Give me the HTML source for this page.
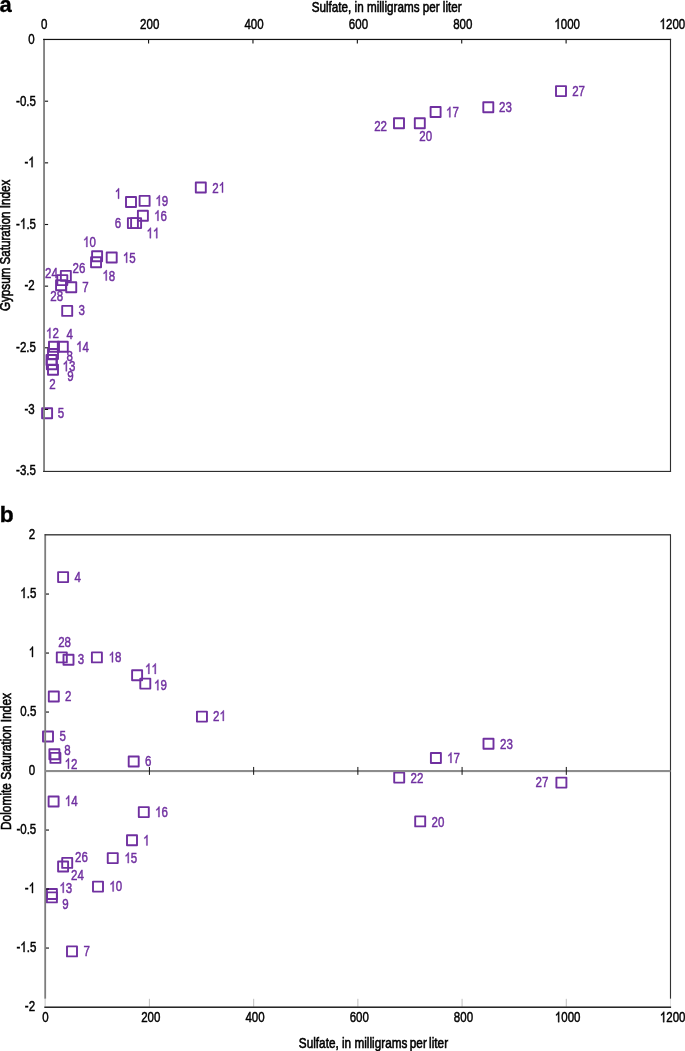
<!DOCTYPE html>
<html>
<head>
<meta charset="utf-8">
<title>Saturation index vs sulfate</title>
<style>
html, body { margin: 0; padding: 0; background: #ffffff; }
body { width: 685px; height: 1051px; overflow: hidden; }
svg { display: block; }
text { font-family: "Liberation Sans", sans-serif; }
</style>
</head>
<body>
<svg width="685" height="1051" viewBox="0 0 685 1051">
<defs><filter id="ga" filterUnits="userSpaceOnUse" x="0" y="0" width="685" height="1051" color-interpolation-filters="sRGB"><feColorMatrix type="matrix" values="1 0 0 0 0  0 1 0 0 0  0 0 1 0 0  0 0 0 1 0"/></filter></defs>
<rect x="0" y="0" width="685" height="1051" fill="#ffffff"/>
<g filter="url(#ga)">
<rect x="556.00" y="86.10" width="10.0" height="10.0" fill="none" stroke="#7030A0" stroke-width="1.9" stroke-linejoin="round"/>
<rect x="483.30" y="102.20" width="10.0" height="10.0" fill="none" stroke="#7030A0" stroke-width="1.9" stroke-linejoin="round"/>
<rect x="430.60" y="107.00" width="10.0" height="10.0" fill="none" stroke="#7030A0" stroke-width="1.9" stroke-linejoin="round"/>
<rect x="414.80" y="118.20" width="10.0" height="10.0" fill="none" stroke="#7030A0" stroke-width="1.9" stroke-linejoin="round"/>
<rect x="394.00" y="118.20" width="10.0" height="10.0" fill="none" stroke="#7030A0" stroke-width="1.9" stroke-linejoin="round"/>
<rect x="195.80" y="182.50" width="10.0" height="10.0" fill="none" stroke="#7030A0" stroke-width="1.9" stroke-linejoin="round"/>
<rect x="126.00" y="197.00" width="10.0" height="10.0" fill="none" stroke="#7030A0" stroke-width="1.9" stroke-linejoin="round"/>
<rect x="139.60" y="195.90" width="10.0" height="10.0" fill="none" stroke="#7030A0" stroke-width="1.9" stroke-linejoin="round"/>
<rect x="137.90" y="210.70" width="10.0" height="10.0" fill="none" stroke="#7030A0" stroke-width="1.9" stroke-linejoin="round"/>
<rect x="127.90" y="218.10" width="10.0" height="10.0" fill="none" stroke="#7030A0" stroke-width="1.9" stroke-linejoin="round"/>
<rect x="131.10" y="218.10" width="10.0" height="10.0" fill="none" stroke="#7030A0" stroke-width="1.9" stroke-linejoin="round"/>
<rect x="92.10" y="251.30" width="10.0" height="10.0" fill="none" stroke="#7030A0" stroke-width="1.9" stroke-linejoin="round"/>
<rect x="91.05" y="257.30" width="10.0" height="10.0" fill="none" stroke="#7030A0" stroke-width="1.9" stroke-linejoin="round"/>
<rect x="106.70" y="252.50" width="10.0" height="10.0" fill="none" stroke="#7030A0" stroke-width="1.9" stroke-linejoin="round"/>
<rect x="60.85" y="270.85" width="10.0" height="10.0" fill="none" stroke="#7030A0" stroke-width="1.9" stroke-linejoin="round"/>
<rect x="57.30" y="275.10" width="10.0" height="10.0" fill="none" stroke="#7030A0" stroke-width="1.9" stroke-linejoin="round"/>
<rect x="56.05" y="280.20" width="10.0" height="10.0" fill="none" stroke="#7030A0" stroke-width="1.9" stroke-linejoin="round"/>
<rect x="66.25" y="282.30" width="10.0" height="10.0" fill="none" stroke="#7030A0" stroke-width="1.9" stroke-linejoin="round"/>
<rect x="62.20" y="305.90" width="10.0" height="10.0" fill="none" stroke="#7030A0" stroke-width="1.9" stroke-linejoin="round"/>
<rect x="49.00" y="341.80" width="10.0" height="10.0" fill="none" stroke="#7030A0" stroke-width="1.9" stroke-linejoin="round"/>
<rect x="57.80" y="341.70" width="10.0" height="10.0" fill="none" stroke="#7030A0" stroke-width="1.9" stroke-linejoin="round"/>
<rect x="48.00" y="349.00" width="10.0" height="10.0" fill="none" stroke="#7030A0" stroke-width="1.9" stroke-linejoin="round"/>
<rect x="46.50" y="355.00" width="10.0" height="10.0" fill="none" stroke="#7030A0" stroke-width="1.9" stroke-linejoin="round"/>
<rect x="46.85" y="359.20" width="10.0" height="10.0" fill="none" stroke="#7030A0" stroke-width="1.9" stroke-linejoin="round"/>
<rect x="48.00" y="364.80" width="10.0" height="10.0" fill="none" stroke="#7030A0" stroke-width="1.9" stroke-linejoin="round"/>
<rect x="42.10" y="408.20" width="10.0" height="10.0" fill="none" stroke="#7030A0" stroke-width="1.9" stroke-linejoin="round"/>
<g transform="translate(572.20,96.05) scale(0.79,1)" fill="#7030A0" stroke="#7030A0" stroke-width="0.48"><text x="0.00" y="0" font-size="14.6">27</text></g>
<g transform="translate(499.00,112.30) scale(0.79,1)" fill="#7030A0" stroke="#7030A0" stroke-width="0.48"><text x="0.00" y="0" font-size="14.6">23</text></g>
<g transform="translate(446.05,117.30) scale(0.79,1)" fill="#7030A0" stroke="#7030A0" stroke-width="0.48"><path transform="translate(0.00,0)" d="M5.44 0.00L4.16 0.00L4.16 -8.18Q3.69 -7.73 2.94 -7.29Q2.19 -6.85 1.59 -6.63L1.59 -7.87Q2.67 -8.38 3.47 -9.10Q4.28 -9.82 4.61 -10.49L5.44 -10.49Z"/><text x="8.12" y="0" font-size="14.6">7</text></g>
<g transform="translate(419.30,140.70) scale(0.79,1)" fill="#7030A0" stroke="#7030A0" stroke-width="0.48"><text x="0.00" y="0" font-size="14.6">20</text></g>
<g transform="translate(374.20,131.20) scale(0.79,1)" fill="#7030A0" stroke="#7030A0" stroke-width="0.48"><text x="0.00" y="0" font-size="14.6">22</text></g>
<g transform="translate(212.30,192.60) scale(0.79,1)" fill="#7030A0" stroke="#7030A0" stroke-width="0.48"><text x="0.00" y="0" font-size="14.6">2</text><path transform="translate(8.12,0)" d="M5.44 0.00L4.16 0.00L4.16 -8.18Q3.69 -7.73 2.94 -7.29Q2.19 -6.85 1.59 -6.63L1.59 -7.87Q2.67 -8.38 3.47 -9.10Q4.28 -9.82 4.61 -10.49L5.44 -10.49Z"/></g>
<g transform="translate(114.75,198.70) scale(0.79,1)" fill="#7030A0" stroke="#7030A0" stroke-width="0.48"><path transform="translate(0.00,0)" d="M5.44 0.00L4.16 0.00L4.16 -8.18Q3.69 -7.73 2.94 -7.29Q2.19 -6.85 1.59 -6.63L1.59 -7.87Q2.67 -8.38 3.47 -9.10Q4.28 -9.82 4.61 -10.49L5.44 -10.49Z"/></g>
<g transform="translate(155.45,205.80) scale(0.79,1)" fill="#7030A0" stroke="#7030A0" stroke-width="0.48"><path transform="translate(0.00,0)" d="M5.44 0.00L4.16 0.00L4.16 -8.18Q3.69 -7.73 2.94 -7.29Q2.19 -6.85 1.59 -6.63L1.59 -7.87Q2.67 -8.38 3.47 -9.10Q4.28 -9.82 4.61 -10.49L5.44 -10.49Z"/><text x="8.12" y="0" font-size="14.6">9</text></g>
<g transform="translate(154.15,220.80) scale(0.79,1)" fill="#7030A0" stroke="#7030A0" stroke-width="0.48"><path transform="translate(0.00,0)" d="M5.44 0.00L4.16 0.00L4.16 -8.18Q3.69 -7.73 2.94 -7.29Q2.19 -6.85 1.59 -6.63L1.59 -7.87Q2.67 -8.38 3.47 -9.10Q4.28 -9.82 4.61 -10.49L5.44 -10.49Z"/><text x="8.12" y="0" font-size="14.6">6</text></g>
<g transform="translate(114.80,227.90) scale(0.79,1)" fill="#7030A0" stroke="#7030A0" stroke-width="0.48"><text x="0.00" y="0" font-size="14.6">6</text></g>
<g transform="translate(146.55,238.20) scale(0.79,1)" fill="#7030A0" stroke="#7030A0" stroke-width="0.48"><path transform="translate(0.00,0)" d="M5.44 0.00L4.16 0.00L4.16 -8.18Q3.69 -7.73 2.94 -7.29Q2.19 -6.85 1.59 -6.63L1.59 -7.87Q2.67 -8.38 3.47 -9.10Q4.28 -9.82 4.61 -10.49L5.44 -10.49Z"/><path transform="translate(8.12,0)" d="M5.44 0.00L4.16 0.00L4.16 -8.18Q3.69 -7.73 2.94 -7.29Q2.19 -6.85 1.59 -6.63L1.59 -7.87Q2.67 -8.38 3.47 -9.10Q4.28 -9.82 4.61 -10.49L5.44 -10.49Z"/></g>
<g transform="translate(83.05,247.00) scale(0.79,1)" fill="#7030A0" stroke="#7030A0" stroke-width="0.48"><path transform="translate(0.00,0)" d="M5.44 0.00L4.16 0.00L4.16 -8.18Q3.69 -7.73 2.94 -7.29Q2.19 -6.85 1.59 -6.63L1.59 -7.87Q2.67 -8.38 3.47 -9.10Q4.28 -9.82 4.61 -10.49L5.44 -10.49Z"/><text x="8.12" y="0" font-size="14.6">0</text></g>
<g transform="translate(122.85,262.70) scale(0.79,1)" fill="#7030A0" stroke="#7030A0" stroke-width="0.48"><path transform="translate(0.00,0)" d="M5.44 0.00L4.16 0.00L4.16 -8.18Q3.69 -7.73 2.94 -7.29Q2.19 -6.85 1.59 -6.63L1.59 -7.87Q2.67 -8.38 3.47 -9.10Q4.28 -9.82 4.61 -10.49L5.44 -10.49Z"/><text x="8.12" y="0" font-size="14.6">5</text></g>
<g transform="translate(102.45,280.60) scale(0.79,1)" fill="#7030A0" stroke="#7030A0" stroke-width="0.48"><path transform="translate(0.00,0)" d="M5.44 0.00L4.16 0.00L4.16 -8.18Q3.69 -7.73 2.94 -7.29Q2.19 -6.85 1.59 -6.63L1.59 -7.87Q2.67 -8.38 3.47 -9.10Q4.28 -9.82 4.61 -10.49L5.44 -10.49Z"/><text x="8.12" y="0" font-size="14.6">8</text></g>
<g transform="translate(72.50,272.90) scale(0.79,1)" fill="#7030A0" stroke="#7030A0" stroke-width="0.48"><text x="0.00" y="0" font-size="14.6">26</text></g>
<g transform="translate(45.10,278.00) scale(0.79,1)" fill="#7030A0" stroke="#7030A0" stroke-width="0.48"><text x="0.00" y="0" font-size="14.6">24</text></g>
<g transform="translate(82.30,292.10) scale(0.79,1)" fill="#7030A0" stroke="#7030A0" stroke-width="0.48"><text x="0.00" y="0" font-size="14.6">7</text></g>
<g transform="translate(50.30,300.80) scale(0.79,1)" fill="#7030A0" stroke="#7030A0" stroke-width="0.48"><text x="0.00" y="0" font-size="14.6">28</text></g>
<g transform="translate(78.60,315.40) scale(0.79,1)" fill="#7030A0" stroke="#7030A0" stroke-width="0.48"><text x="0.00" y="0" font-size="14.6">3</text></g>
<g transform="translate(46.05,338.30) scale(0.79,1)" fill="#7030A0" stroke="#7030A0" stroke-width="0.48"><path transform="translate(0.00,0)" d="M5.44 0.00L4.16 0.00L4.16 -8.18Q3.69 -7.73 2.94 -7.29Q2.19 -6.85 1.59 -6.63L1.59 -7.87Q2.67 -8.38 3.47 -9.10Q4.28 -9.82 4.61 -10.49L5.44 -10.49Z"/><text x="8.12" y="0" font-size="14.6">2</text></g>
<g transform="translate(66.40,339.30) scale(0.79,1)" fill="#7030A0" stroke="#7030A0" stroke-width="0.48"><text x="0.00" y="0" font-size="14.6">4</text></g>
<g transform="translate(76.15,351.70) scale(0.79,1)" fill="#7030A0" stroke="#7030A0" stroke-width="0.48"><path transform="translate(0.00,0)" d="M5.44 0.00L4.16 0.00L4.16 -8.18Q3.69 -7.73 2.94 -7.29Q2.19 -6.85 1.59 -6.63L1.59 -7.87Q2.67 -8.38 3.47 -9.10Q4.28 -9.82 4.61 -10.49L5.44 -10.49Z"/><text x="8.12" y="0" font-size="14.6">4</text></g>
<g transform="translate(66.50,360.60) scale(0.79,1)" fill="#7030A0" stroke="#7030A0" stroke-width="0.48"><text x="0.00" y="0" font-size="14.6">8</text></g>
<g transform="translate(62.55,371.20) scale(0.79,1)" fill="#7030A0" stroke="#7030A0" stroke-width="0.48"><path transform="translate(0.00,0)" d="M5.44 0.00L4.16 0.00L4.16 -8.18Q3.69 -7.73 2.94 -7.29Q2.19 -6.85 1.59 -6.63L1.59 -7.87Q2.67 -8.38 3.47 -9.10Q4.28 -9.82 4.61 -10.49L5.44 -10.49Z"/><text x="8.12" y="0" font-size="14.6">3</text></g>
<g transform="translate(67.20,380.70) scale(0.79,1)" fill="#7030A0" stroke="#7030A0" stroke-width="0.48"><text x="0.00" y="0" font-size="14.6">9</text></g>
<g transform="translate(49.30,389.20) scale(0.79,1)" fill="#7030A0" stroke="#7030A0" stroke-width="0.48"><text x="0.00" y="0" font-size="14.6">2</text></g>
<g transform="translate(57.80,418.20) scale(0.79,1)" fill="#7030A0" stroke="#7030A0" stroke-width="0.48"><text x="0.00" y="0" font-size="14.6">5</text></g>
<rect x="43.15" y="38.85" width="1.80" height="433.15" fill="#7d7d7d"/>
<rect x="43.15" y="38.85" width="627.95" height="1.20" fill="#111"/>
<rect x="669.93" y="38.85" width="1.12" height="433.15" fill="#2e2e2e"/>
<rect x="43.15" y="470.85" width="627.90" height="1.15" fill="#2e2e2e"/>
<rect x="148.03" y="40.00" width="1.10" height="3.50" fill="#111"/>
<rect x="252.41" y="40.00" width="1.10" height="3.50" fill="#111"/>
<rect x="356.79" y="40.00" width="1.10" height="3.50" fill="#111"/>
<rect x="461.17" y="40.00" width="1.10" height="3.50" fill="#111"/>
<rect x="565.55" y="40.00" width="1.10" height="3.50" fill="#111"/>
<rect x="44.90" y="100.65" width="3.20" height="1.10" fill="#111"/>
<rect x="44.90" y="162.30" width="3.20" height="1.10" fill="#111"/>
<rect x="44.90" y="223.95" width="3.20" height="1.10" fill="#111"/>
<rect x="44.90" y="285.60" width="3.20" height="1.10" fill="#111"/>
<rect x="44.90" y="347.25" width="3.20" height="1.10" fill="#111"/>
<rect x="44.90" y="408.90" width="3.20" height="1.10" fill="#111"/>
<g transform="translate(44.30,28.90) scale(0.79,1)" fill="#000" stroke="#000" stroke-width="0.48"><text x="-4.06" y="0" font-size="14.6">0</text></g>
<g transform="translate(149.68,28.90) scale(0.79,1)" fill="#000" stroke="#000" stroke-width="0.48"><text x="-12.18" y="0" font-size="14.6">200</text></g>
<g transform="translate(254.06,28.90) scale(0.79,1)" fill="#000" stroke="#000" stroke-width="0.48"><text x="-12.18" y="0" font-size="14.6">400</text></g>
<g transform="translate(358.44,28.90) scale(0.79,1)" fill="#000" stroke="#000" stroke-width="0.48"><text x="-12.18" y="0" font-size="14.6">600</text></g>
<g transform="translate(462.82,28.90) scale(0.79,1)" fill="#000" stroke="#000" stroke-width="0.48"><text x="-12.18" y="0" font-size="14.6">800</text></g>
<g transform="translate(567.20,28.90) scale(0.79,1)" fill="#000" stroke="#000" stroke-width="0.48"><path transform="translate(-16.24,0)" d="M5.44 0.00L4.16 0.00L4.16 -8.18Q3.69 -7.73 2.94 -7.29Q2.19 -6.85 1.59 -6.63L1.59 -7.87Q2.67 -8.38 3.47 -9.10Q4.28 -9.82 4.61 -10.49L5.44 -10.49Z"/><text x="-8.12" y="0" font-size="14.6">000</text></g>
<g transform="translate(672.38,28.90) scale(0.79,1)" fill="#000" stroke="#000" stroke-width="0.48"><path transform="translate(-16.24,0)" d="M5.44 0.00L4.16 0.00L4.16 -8.18Q3.69 -7.73 2.94 -7.29Q2.19 -6.85 1.59 -6.63L1.59 -7.87Q2.67 -8.38 3.47 -9.10Q4.28 -9.82 4.61 -10.49L5.44 -10.49Z"/><text x="-8.12" y="0" font-size="14.6">200</text></g>
<g transform="translate(34.70,43.85) scale(0.79,1)" fill="#000" stroke="#000" stroke-width="0.48"><text x="-8.12" y="0" font-size="14.6">0</text></g>
<g transform="translate(36.00,105.50) scale(0.79,1)" fill="#000" stroke="#000" stroke-width="0.48"><text x="-25.16" y="0" font-size="14.6">-0.5</text></g>
<g transform="translate(34.70,167.15) scale(0.79,1)" fill="#000" stroke="#000" stroke-width="0.48"><text x="-12.98" y="0" font-size="14.6">-</text><path transform="translate(-8.12,0)" d="M5.44 0.00L4.16 0.00L4.16 -8.18Q3.69 -7.73 2.94 -7.29Q2.19 -6.85 1.59 -6.63L1.59 -7.87Q2.67 -8.38 3.47 -9.10Q4.28 -9.82 4.61 -10.49L5.44 -10.49Z"/></g>
<g transform="translate(36.00,228.80) scale(0.79,1)" fill="#000" stroke="#000" stroke-width="0.48"><text x="-25.16" y="0" font-size="14.6">-</text><path transform="translate(-20.30,0)" d="M5.44 0.00L4.16 0.00L4.16 -8.18Q3.69 -7.73 2.94 -7.29Q2.19 -6.85 1.59 -6.63L1.59 -7.87Q2.67 -8.38 3.47 -9.10Q4.28 -9.82 4.61 -10.49L5.44 -10.49Z"/><text x="-12.18" y="0" font-size="14.6">.5</text></g>
<g transform="translate(34.70,290.45) scale(0.79,1)" fill="#000" stroke="#000" stroke-width="0.48"><text x="-12.98" y="0" font-size="14.6">-2</text></g>
<g transform="translate(36.00,352.10) scale(0.79,1)" fill="#000" stroke="#000" stroke-width="0.48"><text x="-25.16" y="0" font-size="14.6">-2.5</text></g>
<g transform="translate(34.70,413.75) scale(0.79,1)" fill="#000" stroke="#000" stroke-width="0.48"><text x="-12.98" y="0" font-size="14.6">-3</text></g>
<g transform="translate(36.00,475.40) scale(0.79,1)" fill="#000" stroke="#000" stroke-width="0.48"><text x="-25.16" y="0" font-size="14.6">-3.5</text></g>
<text transform="translate(311.70,11.70) scale(0.823,1)" text-anchor="start" fill="#000" stroke="#000" stroke-width="0.58" font-size="14.2" font-weight="normal">Sulfate, in milligrams per liter</text>
<text transform="translate(10.40,311.00) rotate(-90) scale(0.82,1)" text-anchor="start" fill="#000" stroke="#000" stroke-width="0.58" font-size="14.2" font-weight="normal">Gypsum Saturation Index</text>
<text transform="translate(-0.50,11.70) scale(1.0,1)" text-anchor="start" fill="#000" stroke="#000" stroke-width="0.35" font-size="21.9" font-weight="bold">a</text>
<rect x="58.10" y="572.10" width="10.0" height="10.0" fill="none" stroke="#7030A0" stroke-width="1.9" stroke-linejoin="round"/>
<rect x="56.80" y="652.40" width="10.0" height="10.0" fill="none" stroke="#7030A0" stroke-width="1.9" stroke-linejoin="round"/>
<rect x="63.50" y="654.80" width="10.0" height="10.0" fill="none" stroke="#7030A0" stroke-width="1.9" stroke-linejoin="round"/>
<rect x="91.90" y="652.40" width="10.0" height="10.0" fill="none" stroke="#7030A0" stroke-width="1.9" stroke-linejoin="round"/>
<rect x="48.80" y="691.50" width="10.0" height="10.0" fill="none" stroke="#7030A0" stroke-width="1.9" stroke-linejoin="round"/>
<rect x="43.00" y="731.50" width="10.0" height="10.0" fill="none" stroke="#7030A0" stroke-width="1.9" stroke-linejoin="round"/>
<rect x="49.40" y="749.20" width="10.0" height="10.0" fill="none" stroke="#7030A0" stroke-width="1.9" stroke-linejoin="round"/>
<rect x="50.40" y="752.90" width="10.0" height="10.0" fill="none" stroke="#7030A0" stroke-width="1.9" stroke-linejoin="round"/>
<rect x="132.10" y="670.20" width="10.0" height="10.0" fill="none" stroke="#7030A0" stroke-width="1.9" stroke-linejoin="round"/>
<rect x="140.30" y="678.60" width="10.0" height="10.0" fill="none" stroke="#7030A0" stroke-width="1.9" stroke-linejoin="round"/>
<rect x="196.95" y="711.60" width="10.0" height="10.0" fill="none" stroke="#7030A0" stroke-width="1.9" stroke-linejoin="round"/>
<rect x="128.70" y="756.50" width="10.0" height="10.0" fill="none" stroke="#7030A0" stroke-width="1.9" stroke-linejoin="round"/>
<rect x="48.60" y="796.50" width="10.0" height="10.0" fill="none" stroke="#7030A0" stroke-width="1.9" stroke-linejoin="round"/>
<rect x="62.20" y="857.90" width="10.0" height="10.0" fill="none" stroke="#7030A0" stroke-width="1.9" stroke-linejoin="round"/>
<rect x="58.10" y="861.50" width="10.0" height="10.0" fill="none" stroke="#7030A0" stroke-width="1.9" stroke-linejoin="round"/>
<rect x="93.00" y="881.60" width="10.0" height="10.0" fill="none" stroke="#7030A0" stroke-width="1.9" stroke-linejoin="round"/>
<rect x="107.75" y="853.10" width="10.0" height="10.0" fill="none" stroke="#7030A0" stroke-width="1.9" stroke-linejoin="round"/>
<rect x="46.90" y="889.00" width="10.0" height="10.0" fill="none" stroke="#7030A0" stroke-width="1.9" stroke-linejoin="round"/>
<rect x="46.90" y="892.40" width="10.0" height="10.0" fill="none" stroke="#7030A0" stroke-width="1.9" stroke-linejoin="round"/>
<rect x="138.80" y="807.10" width="10.0" height="10.0" fill="none" stroke="#7030A0" stroke-width="1.9" stroke-linejoin="round"/>
<rect x="127.00" y="835.20" width="10.0" height="10.0" fill="none" stroke="#7030A0" stroke-width="1.9" stroke-linejoin="round"/>
<rect x="67.00" y="946.40" width="10.0" height="10.0" fill="none" stroke="#7030A0" stroke-width="1.9" stroke-linejoin="round"/>
<rect x="394.20" y="772.60" width="10.0" height="10.0" fill="none" stroke="#7030A0" stroke-width="1.9" stroke-linejoin="round"/>
<rect x="430.90" y="753.00" width="10.0" height="10.0" fill="none" stroke="#7030A0" stroke-width="1.9" stroke-linejoin="round"/>
<rect x="483.50" y="738.70" width="10.0" height="10.0" fill="none" stroke="#7030A0" stroke-width="1.9" stroke-linejoin="round"/>
<rect x="415.20" y="816.40" width="10.0" height="10.0" fill="none" stroke="#7030A0" stroke-width="1.9" stroke-linejoin="round"/>
<rect x="556.40" y="777.60" width="10.0" height="10.0" fill="none" stroke="#7030A0" stroke-width="1.9" stroke-linejoin="round"/>
<g transform="translate(74.40,582.10) scale(0.79,1)" fill="#7030A0" stroke="#7030A0" stroke-width="0.48"><text x="0.00" y="0" font-size="14.6">4</text></g>
<g transform="translate(58.20,647.00) scale(0.79,1)" fill="#7030A0" stroke="#7030A0" stroke-width="0.48"><text x="0.00" y="0" font-size="14.6">28</text></g>
<g transform="translate(77.80,664.00) scale(0.79,1)" fill="#7030A0" stroke="#7030A0" stroke-width="0.48"><text x="0.00" y="0" font-size="14.6">3</text></g>
<g transform="translate(108.65,662.30) scale(0.79,1)" fill="#7030A0" stroke="#7030A0" stroke-width="0.48"><path transform="translate(0.00,0)" d="M5.44 0.00L4.16 0.00L4.16 -8.18Q3.69 -7.73 2.94 -7.29Q2.19 -6.85 1.59 -6.63L1.59 -7.87Q2.67 -8.38 3.47 -9.10Q4.28 -9.82 4.61 -10.49L5.44 -10.49Z"/><text x="8.12" y="0" font-size="14.6">8</text></g>
<g transform="translate(65.10,701.10) scale(0.79,1)" fill="#7030A0" stroke="#7030A0" stroke-width="0.48"><text x="0.00" y="0" font-size="14.6">2</text></g>
<g transform="translate(59.40,741.40) scale(0.79,1)" fill="#7030A0" stroke="#7030A0" stroke-width="0.48"><text x="0.00" y="0" font-size="14.6">5</text></g>
<g transform="translate(64.20,755.00) scale(0.79,1)" fill="#7030A0" stroke="#7030A0" stroke-width="0.48"><text x="0.00" y="0" font-size="14.6">8</text></g>
<g transform="translate(64.65,768.70) scale(0.79,1)" fill="#7030A0" stroke="#7030A0" stroke-width="0.48"><path transform="translate(0.00,0)" d="M5.44 0.00L4.16 0.00L4.16 -8.18Q3.69 -7.73 2.94 -7.29Q2.19 -6.85 1.59 -6.63L1.59 -7.87Q2.67 -8.38 3.47 -9.10Q4.28 -9.82 4.61 -10.49L5.44 -10.49Z"/><text x="8.12" y="0" font-size="14.6">2</text></g>
<g transform="translate(145.05,673.90) scale(0.79,1)" fill="#7030A0" stroke="#7030A0" stroke-width="0.48"><path transform="translate(0.00,0)" d="M5.44 0.00L4.16 0.00L4.16 -8.18Q3.69 -7.73 2.94 -7.29Q2.19 -6.85 1.59 -6.63L1.59 -7.87Q2.67 -8.38 3.47 -9.10Q4.28 -9.82 4.61 -10.49L5.44 -10.49Z"/><path transform="translate(8.12,0)" d="M5.44 0.00L4.16 0.00L4.16 -8.18Q3.69 -7.73 2.94 -7.29Q2.19 -6.85 1.59 -6.63L1.59 -7.87Q2.67 -8.38 3.47 -9.10Q4.28 -9.82 4.61 -10.49L5.44 -10.49Z"/></g>
<g transform="translate(154.05,690.20) scale(0.79,1)" fill="#7030A0" stroke="#7030A0" stroke-width="0.48"><path transform="translate(0.00,0)" d="M5.44 0.00L4.16 0.00L4.16 -8.18Q3.69 -7.73 2.94 -7.29Q2.19 -6.85 1.59 -6.63L1.59 -7.87Q2.67 -8.38 3.47 -9.10Q4.28 -9.82 4.61 -10.49L5.44 -10.49Z"/><text x="8.12" y="0" font-size="14.6">9</text></g>
<g transform="translate(213.10,720.90) scale(0.79,1)" fill="#7030A0" stroke="#7030A0" stroke-width="0.48"><text x="0.00" y="0" font-size="14.6">2</text><path transform="translate(8.12,0)" d="M5.44 0.00L4.16 0.00L4.16 -8.18Q3.69 -7.73 2.94 -7.29Q2.19 -6.85 1.59 -6.63L1.59 -7.87Q2.67 -8.38 3.47 -9.10Q4.28 -9.82 4.61 -10.49L5.44 -10.49Z"/></g>
<g transform="translate(144.90,766.20) scale(0.79,1)" fill="#7030A0" stroke="#7030A0" stroke-width="0.48"><text x="0.00" y="0" font-size="14.6">6</text></g>
<g transform="translate(64.85,806.00) scale(0.79,1)" fill="#7030A0" stroke="#7030A0" stroke-width="0.48"><path transform="translate(0.00,0)" d="M5.44 0.00L4.16 0.00L4.16 -8.18Q3.69 -7.73 2.94 -7.29Q2.19 -6.85 1.59 -6.63L1.59 -7.87Q2.67 -8.38 3.47 -9.10Q4.28 -9.82 4.61 -10.49L5.44 -10.49Z"/><text x="8.12" y="0" font-size="14.6">4</text></g>
<g transform="translate(75.10,861.90) scale(0.79,1)" fill="#7030A0" stroke="#7030A0" stroke-width="0.48"><text x="0.00" y="0" font-size="14.6">26</text></g>
<g transform="translate(71.00,880.10) scale(0.79,1)" fill="#7030A0" stroke="#7030A0" stroke-width="0.48"><text x="0.00" y="0" font-size="14.6">24</text></g>
<g transform="translate(109.35,891.40) scale(0.79,1)" fill="#7030A0" stroke="#7030A0" stroke-width="0.48"><path transform="translate(0.00,0)" d="M5.44 0.00L4.16 0.00L4.16 -8.18Q3.69 -7.73 2.94 -7.29Q2.19 -6.85 1.59 -6.63L1.59 -7.87Q2.67 -8.38 3.47 -9.10Q4.28 -9.82 4.61 -10.49L5.44 -10.49Z"/><text x="8.12" y="0" font-size="14.6">0</text></g>
<g transform="translate(124.45,863.10) scale(0.79,1)" fill="#7030A0" stroke="#7030A0" stroke-width="0.48"><path transform="translate(0.00,0)" d="M5.44 0.00L4.16 0.00L4.16 -8.18Q3.69 -7.73 2.94 -7.29Q2.19 -6.85 1.59 -6.63L1.59 -7.87Q2.67 -8.38 3.47 -9.10Q4.28 -9.82 4.61 -10.49L5.44 -10.49Z"/><text x="8.12" y="0" font-size="14.6">5</text></g>
<g transform="translate(59.45,892.80) scale(0.79,1)" fill="#7030A0" stroke="#7030A0" stroke-width="0.48"><path transform="translate(0.00,0)" d="M5.44 0.00L4.16 0.00L4.16 -8.18Q3.69 -7.73 2.94 -7.29Q2.19 -6.85 1.59 -6.63L1.59 -7.87Q2.67 -8.38 3.47 -9.10Q4.28 -9.82 4.61 -10.49L5.44 -10.49Z"/><text x="8.12" y="0" font-size="14.6">3</text></g>
<g transform="translate(62.20,908.90) scale(0.79,1)" fill="#7030A0" stroke="#7030A0" stroke-width="0.48"><text x="0.00" y="0" font-size="14.6">9</text></g>
<g transform="translate(155.15,817.10) scale(0.79,1)" fill="#7030A0" stroke="#7030A0" stroke-width="0.48"><path transform="translate(0.00,0)" d="M5.44 0.00L4.16 0.00L4.16 -8.18Q3.69 -7.73 2.94 -7.29Q2.19 -6.85 1.59 -6.63L1.59 -7.87Q2.67 -8.38 3.47 -9.10Q4.28 -9.82 4.61 -10.49L5.44 -10.49Z"/><text x="8.12" y="0" font-size="14.6">6</text></g>
<g transform="translate(143.15,845.40) scale(0.79,1)" fill="#7030A0" stroke="#7030A0" stroke-width="0.48"><path transform="translate(0.00,0)" d="M5.44 0.00L4.16 0.00L4.16 -8.18Q3.69 -7.73 2.94 -7.29Q2.19 -6.85 1.59 -6.63L1.59 -7.87Q2.67 -8.38 3.47 -9.10Q4.28 -9.82 4.61 -10.49L5.44 -10.49Z"/></g>
<g transform="translate(83.40,956.40) scale(0.79,1)" fill="#7030A0" stroke="#7030A0" stroke-width="0.48"><text x="0.00" y="0" font-size="14.6">7</text></g>
<g transform="translate(410.50,782.90) scale(0.79,1)" fill="#7030A0" stroke="#7030A0" stroke-width="0.48"><text x="0.00" y="0" font-size="14.6">22</text></g>
<g transform="translate(447.15,762.90) scale(0.79,1)" fill="#7030A0" stroke="#7030A0" stroke-width="0.48"><path transform="translate(0.00,0)" d="M5.44 0.00L4.16 0.00L4.16 -8.18Q3.69 -7.73 2.94 -7.29Q2.19 -6.85 1.59 -6.63L1.59 -7.87Q2.67 -8.38 3.47 -9.10Q4.28 -9.82 4.61 -10.49L5.44 -10.49Z"/><text x="8.12" y="0" font-size="14.6">7</text></g>
<g transform="translate(500.00,748.60) scale(0.79,1)" fill="#7030A0" stroke="#7030A0" stroke-width="0.48"><text x="0.00" y="0" font-size="14.6">23</text></g>
<g transform="translate(431.50,826.50) scale(0.79,1)" fill="#7030A0" stroke="#7030A0" stroke-width="0.48"><text x="0.00" y="0" font-size="14.6">20</text></g>
<g transform="translate(535.60,787.00) scale(0.79,1)" fill="#7030A0" stroke="#7030A0" stroke-width="0.48"><text x="0.00" y="0" font-size="14.6">27</text></g>
<rect x="44.30" y="534.10" width="1.80" height="464.70" fill="#7d7d7d"/>
<rect x="44.40" y="998.80" width="1.60" height="7.60" fill="#dadada"/>
<rect x="44.70" y="534.10" width="626.10" height="1.40" fill="#3a3a3a"/>
<rect x="669.93" y="534.50" width="1.12" height="464.30" fill="#333"/>
<rect x="669.95" y="998.80" width="0.95" height="7.60" fill="#dcdcdc"/>
<rect x="148.87" y="998.80" width="1.10" height="8.00" fill="#c6c6c6"/>
<rect x="253.09" y="998.80" width="1.10" height="8.00" fill="#c6c6c6"/>
<rect x="357.31" y="998.80" width="1.10" height="8.00" fill="#c6c6c6"/>
<rect x="461.53" y="998.80" width="1.10" height="8.00" fill="#c6c6c6"/>
<rect x="565.75" y="998.80" width="1.10" height="8.00" fill="#c6c6c6"/>
<rect x="44.30" y="1006.45" width="626.80" height="1.55" fill="#262626"/>
<rect x="45.30" y="770.00" width="625.20" height="2.10" fill="#8c8c8c"/>
<rect x="148.92" y="766.95" width="1.00" height="7.90" fill="#141414"/>
<rect x="253.14" y="766.95" width="1.00" height="7.90" fill="#141414"/>
<rect x="357.36" y="766.95" width="1.00" height="7.90" fill="#141414"/>
<rect x="461.58" y="766.95" width="1.00" height="7.90" fill="#141414"/>
<rect x="565.80" y="766.95" width="1.00" height="7.90" fill="#141414"/>
<rect x="46.00" y="593.50" width="3.00" height="1.10" fill="#111"/>
<rect x="46.00" y="652.50" width="3.00" height="1.10" fill="#111"/>
<rect x="46.00" y="711.50" width="3.00" height="1.10" fill="#111"/>
<rect x="46.00" y="829.50" width="3.00" height="1.10" fill="#111"/>
<rect x="46.00" y="888.50" width="3.00" height="1.10" fill="#111"/>
<rect x="46.00" y="947.50" width="3.00" height="1.10" fill="#111"/>
<g transform="translate(45.40,1022.20) scale(0.79,1)" fill="#000" stroke="#000" stroke-width="0.48"><text x="-4.06" y="0" font-size="14.6">0</text></g>
<g transform="translate(150.82,1022.20) scale(0.79,1)" fill="#000" stroke="#000" stroke-width="0.48"><text x="-12.18" y="0" font-size="14.6">200</text></g>
<g transform="translate(255.04,1022.20) scale(0.79,1)" fill="#000" stroke="#000" stroke-width="0.48"><text x="-12.18" y="0" font-size="14.6">400</text></g>
<g transform="translate(359.26,1022.20) scale(0.79,1)" fill="#000" stroke="#000" stroke-width="0.48"><text x="-12.18" y="0" font-size="14.6">600</text></g>
<g transform="translate(463.48,1022.20) scale(0.79,1)" fill="#000" stroke="#000" stroke-width="0.48"><text x="-12.18" y="0" font-size="14.6">800</text></g>
<g transform="translate(567.70,1022.20) scale(0.79,1)" fill="#000" stroke="#000" stroke-width="0.48"><path transform="translate(-16.24,0)" d="M5.44 0.00L4.16 0.00L4.16 -8.18Q3.69 -7.73 2.94 -7.29Q2.19 -6.85 1.59 -6.63L1.59 -7.87Q2.67 -8.38 3.47 -9.10Q4.28 -9.82 4.61 -10.49L5.44 -10.49Z"/><text x="-8.12" y="0" font-size="14.6">000</text></g>
<g transform="translate(672.72,1022.20) scale(0.79,1)" fill="#000" stroke="#000" stroke-width="0.48"><path transform="translate(-16.24,0)" d="M5.44 0.00L4.16 0.00L4.16 -8.18Q3.69 -7.73 2.94 -7.29Q2.19 -6.85 1.59 -6.63L1.59 -7.87Q2.67 -8.38 3.47 -9.10Q4.28 -9.82 4.61 -10.49L5.44 -10.49Z"/><text x="-8.12" y="0" font-size="14.6">200</text></g>
<g transform="translate(35.10,539.05) scale(0.79,1)" fill="#000" stroke="#000" stroke-width="0.48"><text x="-8.12" y="0" font-size="14.6">2</text></g>
<g transform="translate(36.30,598.05) scale(0.79,1)" fill="#000" stroke="#000" stroke-width="0.48"><path transform="translate(-20.30,0)" d="M5.44 0.00L4.16 0.00L4.16 -8.18Q3.69 -7.73 2.94 -7.29Q2.19 -6.85 1.59 -6.63L1.59 -7.87Q2.67 -8.38 3.47 -9.10Q4.28 -9.82 4.61 -10.49L5.44 -10.49Z"/><text x="-12.18" y="0" font-size="14.6">.5</text></g>
<g transform="translate(35.10,657.05) scale(0.79,1)" fill="#000" stroke="#000" stroke-width="0.48"><path transform="translate(-8.12,0)" d="M5.44 0.00L4.16 0.00L4.16 -8.18Q3.69 -7.73 2.94 -7.29Q2.19 -6.85 1.59 -6.63L1.59 -7.87Q2.67 -8.38 3.47 -9.10Q4.28 -9.82 4.61 -10.49L5.44 -10.49Z"/></g>
<g transform="translate(36.30,716.05) scale(0.79,1)" fill="#000" stroke="#000" stroke-width="0.48"><text x="-20.30" y="0" font-size="14.6">0.5</text></g>
<g transform="translate(35.10,775.05) scale(0.79,1)" fill="#000" stroke="#000" stroke-width="0.48"><text x="-8.12" y="0" font-size="14.6">0</text></g>
<g transform="translate(36.30,834.05) scale(0.79,1)" fill="#000" stroke="#000" stroke-width="0.48"><text x="-25.16" y="0" font-size="14.6">-0.5</text></g>
<g transform="translate(35.10,893.05) scale(0.79,1)" fill="#000" stroke="#000" stroke-width="0.48"><text x="-12.98" y="0" font-size="14.6">-</text><path transform="translate(-8.12,0)" d="M5.44 0.00L4.16 0.00L4.16 -8.18Q3.69 -7.73 2.94 -7.29Q2.19 -6.85 1.59 -6.63L1.59 -7.87Q2.67 -8.38 3.47 -9.10Q4.28 -9.82 4.61 -10.49L5.44 -10.49Z"/></g>
<g transform="translate(36.30,952.05) scale(0.79,1)" fill="#000" stroke="#000" stroke-width="0.48"><text x="-25.16" y="0" font-size="14.6">-</text><path transform="translate(-20.30,0)" d="M5.44 0.00L4.16 0.00L4.16 -8.18Q3.69 -7.73 2.94 -7.29Q2.19 -6.85 1.59 -6.63L1.59 -7.87Q2.67 -8.38 3.47 -9.10Q4.28 -9.82 4.61 -10.49L5.44 -10.49Z"/><text x="-12.18" y="0" font-size="14.6">.5</text></g>
<g transform="translate(35.10,1011.05) scale(0.79,1)" fill="#000" stroke="#000" stroke-width="0.48"><text x="-12.98" y="0" font-size="14.6">-2</text></g>
<text transform="translate(298.80,1047.50) scale(0.83,1)" text-anchor="start" fill="#000" stroke="#000" stroke-width="0.58" font-size="14.2" font-weight="normal">Sulfate, in milligrams<tspan dx="-1.0"> per</tspan><tspan dx="-1.2"> liter</tspan></text>
<text transform="translate(10.90,830.00) rotate(-90) scale(0.839,1)" text-anchor="start" fill="#000" stroke="#000" stroke-width="0.58" font-size="14.2" font-weight="normal">Dolomite Saturation Index</text>
<text transform="translate(-0.30,522.20) scale(1.04,1)" text-anchor="start" fill="#000" stroke="#000" stroke-width="0.35" font-size="21.9" font-weight="bold">b</text>
</g>
</svg>
</body>
</html>
